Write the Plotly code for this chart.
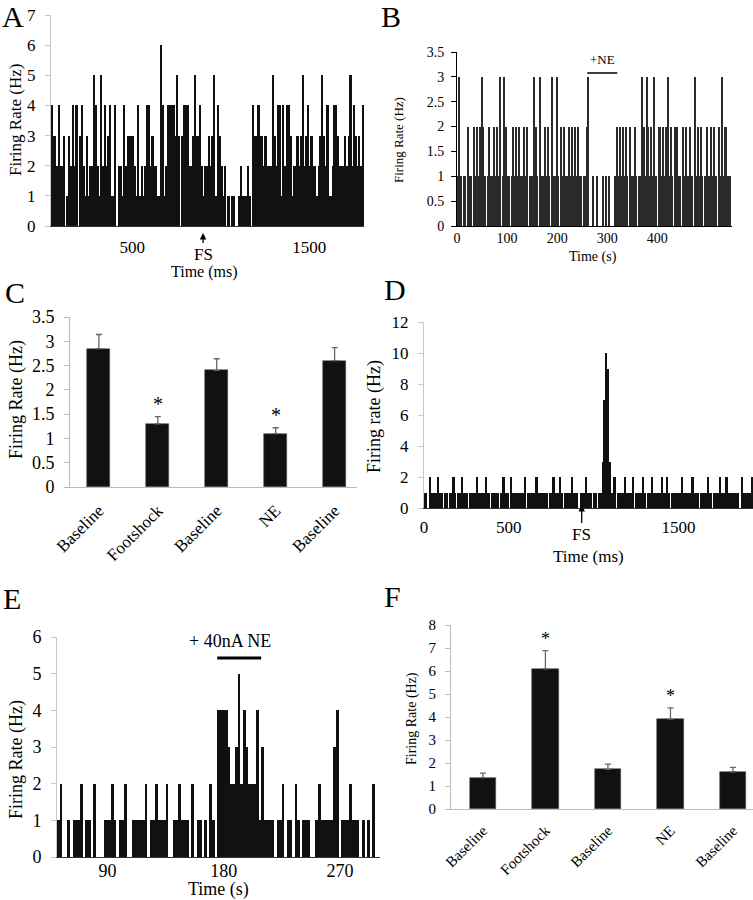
import numpy as np
import plotly.graph_objects as go

FONT = "Liberation Serif"
W, H = 753, 900

# ---------------- data ----------------
# Panel A: firing rate per 10-ms bin (starting at 40 ms)
a_start, a_bin = 40, 10
a_counts = [4, 3, 3, 2, 4, 2, 2, 3, 0, 1, 3, 2, 4, 2, 4, 0, 3, 4, 2, 1,
            3, 1, 2, 2, 5, 4, 2, 1, 5, 2, 4, 2, 3, 4, 1, 1, 4, 0, 2, 2,
            1, 4, 2, 3, 3, 3, 3, 2, 1, 4, 1, 2, 1, 2, 4, 4, 2, 3, 2, 2,
            1, 1, 6, 4, 1, 2, 4, 4, 4, 4, 3, 5, 3, 0, 3, 4, 4, 4, 2, 2,
            3, 5, 3, 3, 4, 2, 1, 2, 2, 3, 2, 3, 5, 1, 4, 3, 2, 1, 2, 0,
            1, 0, 1, 1, 0, 0, 1, 2, 1, 1, 1, 2, 1, 0, 4, 3, 3, 4, 3, 3,
            2, 3, 2, 2, 2, 5, 3, 2, 4, 4, 1, 4, 2, 4, 4, 3, 1, 2, 2, 3,
            2, 3, 5, 2, 3, 4, 2, 3, 2, 2, 1, 2, 3, 5, 3, 2, 4, 1, 1, 2,
            4, 4, 3, 2, 2, 2, 3, 2, 3, 5, 2, 4, 3, 2, 3, 2, 4]
a_ticks = [500, 1500]
fs_a = 900

# Panel B: firing rate per 3-s bin
b_start, b_bin = 0, 3
b_counts = [1, 3, 1, 0, 1, 1, 0, 2, 1, 1, 0, 2, 1, 2, 1, 2, 3, 2, 1, 0,
            1, 2, 1, 1, 2, 1, 2, 1, 3, 0, 1, 3, 2, 1, 1, 0, 1, 2, 1, 2,
            1, 2, 1, 1, 2, 1, 2, 0, 1, 1, 1, 3, 2, 1, 0, 3, 1, 1, 2, 1,
            2, 1, 0, 3, 1, 1, 3, 1, 0, 2, 1, 2, 1, 1, 2, 1, 2, 1, 2, 1,
            2, 1, 1, 0, 1, 1, 2, 3, 0, 0, 1, 0, 0, 1, 0, 0, 0, 1, 0, 1,
            0, 1, 0, 0, 0, 1, 2, 1, 2, 1, 2, 1, 2, 1, 0, 2, 1, 1, 2, 1,
            0, 1, 1, 3, 2, 1, 3, 2, 1, 2, 1, 3, 1, 0, 2, 2, 1, 2, 1, 2,
            3, 1, 2, 1, 0, 2, 2, 1, 1, 0, 2, 1, 2, 1, 1, 2, 1, 0, 3, 1,
            2, 1, 2, 1, 0, 1, 2, 1, 1, 2, 1, 2, 1, 0, 2, 1, 3, 1, 2, 2,
            1, 1, 0]
b_ticks = [0, 100, 200, 300, 400]
ne_b = [260, 320]

# Panel C
c_labels = ["Baseline", "Footshock", "Baseline", "NE", "Baseline"]
c_means = [2.85, 1.30, 2.40, 1.10, 2.60]
c_errs = [0.29, 0.15, 0.24, 0.12, 0.27]
c_sig = [False, True, False, True, False]

# Panel D: firing rate per 10-ms bin
d_start, d_bin = 0, 10
d_counts = [1, 1, 0, 2, 1, 1, 1, 1, 2, 1, 1, 0, 1, 1, 0, 1, 1, 2, 1, 0,
            1, 1, 2, 1, 1, 1, 0, 1, 1, 1, 1, 2, 1, 1, 1, 1, 2, 1, 1, 0,
            1, 1, 1, 1, 0, 1, 2, 2, 1, 1, 0, 2, 1, 1, 1, 1, 1, 1, 1, 2,
            0, 1, 1, 1, 1, 1, 2, 1, 1, 1, 1, 1, 1, 0, 1, 1, 2, 1, 1, 1,
            2, 1, 0, 1, 1, 1, 1, 2, 1, 1, 1, 0, 1, 1, 1, 2, 1, 1, 1, 0,
            1, 1, 0, 1, 1, 3, 7, 10, 9, 3, 1, 1, 2, 0, 1, 1, 1, 1, 2, 1,
            1, 1, 1, 2, 0, 1, 1, 1, 1, 2, 1, 0, 1, 1, 2, 1, 1, 1, 1, 1,
            2, 1, 1, 2, 1, 0, 1, 1, 1, 1, 1, 1, 2, 1, 1, 1, 1, 1, 2, 1,
            1, 1, 0, 1, 1, 1, 1, 2, 1, 1, 0, 1, 1, 1, 2, 1, 1, 1, 2, 1,
            1, 1, 1, 1, 1, 1, 0, 2, 1, 1, 1, 1, 1, 2]
d_ticks = [0, 500, 1500]
fs_d = 930

# Panel E: firing rate per 2-s bin (starting at 51 s)
e_start, e_bin = 51, 2
e_counts = [1, 2, 0, 0, 1, 0, 1, 1, 1, 2, 0, 1, 1, 0, 2, 0, 0, 0, 1, 1,
            1, 2, 1, 0, 1, 1, 2, 0, 0, 1, 1, 1, 1, 1, 2, 0, 1, 1, 2, 1,
            1, 1, 2, 0, 0, 1, 1, 2, 1, 1, 1, 0, 2, 0, 1, 1, 0, 1, 0, 2,
            1, 0, 4, 4, 4, 4, 3, 2, 2, 3, 5, 2, 4, 3, 2, 2, 2, 4, 1, 3,
            1, 1, 1, 1, 0, 1, 1, 2, 0, 1, 1, 0, 2, 1, 0, 1, 1, 1, 0, 0,
            1, 2, 1, 1, 1, 1, 1, 3, 4, 0, 1, 1, 1, 2, 1, 1, 1, 0, 1, 0,
            1, 0, 2, 0, 0]
e_ticks = [90, 180, 270]
ne_e = [175, 209]

# Panel F
f_labels = ["Baseline", "Footshock", "Baseline", "NE", "Baseline"]
f_means = [1.36, 6.09, 1.72, 3.91, 1.62]
f_errs = [0.20, 0.80, 0.23, 0.49, 0.19]
f_sig = [False, True, False, True, False]

# ---------------- helpers ----------------
def px(x):
    return x / W


def py(y):
    return 1 - y / H


BLACK = "#111111"
LIGHT = "#c8c8c8"

fig = go.Figure()


def hist_trace(start, width, counts, ax, color=BLACK):
    centers = start + width * (np.arange(len(counts)) + 0.5)
    return go.Bar(x=centers, y=counts, width=width, marker=dict(color=color, line=dict(width=0)),
                  xaxis=ax[0], yaxis=ax[1], hoverinfo="skip")


fig.add_trace(hist_trace(a_start, a_bin, a_counts, ("x", "y")))
fig.add_trace(hist_trace(b_start, b_bin, b_counts, ("x2", "y2"), color="#2a2a2a"))
fig.add_trace(hist_trace(d_start, d_bin, d_counts, ("x4", "y4")))
fig.add_trace(hist_trace(e_start, e_bin, e_counts, ("x5", "y5")))

idx = list(range(len(c_means)))
fig.add_trace(go.Bar(x=idx, y=c_means, width=0.39, xaxis="x3", yaxis="y3",
                     marker=dict(color=BLACK, line=dict(width=0.6, color="#555")),
                     error_y=dict(type="data", array=c_errs, arrayminus=[0] * len(c_errs), symmetric=False,
                                  color="#666", thickness=1.3, width=3)))
fig.add_trace(go.Bar(x=idx, y=f_means, width=0.42, xaxis="x6", yaxis="y6",
                     marker=dict(color=BLACK, line=dict(width=0.6, color="#555")),
                     error_y=dict(type="data", array=f_errs, arrayminus=[0] * len(f_errs), symmetric=False,
                                  color="#666", thickness=1.3, width=3)))

tf = lambda s: dict(family=FONT, size=s, color="black")


def yax(dom_top, dom_bot, xa, rng, dtick, size, lc=LIGHT, tc=LIGHT, standoff=6):
    return dict(domain=[py(dom_bot), py(dom_top)], anchor=xa, range=rng, dtick=dtick,
                showgrid=False, zeroline=False, showline=True, linecolor=lc, linewidth=1,
                ticks="outside", ticklen=5, tickcolor=tc, tickfont=tf(size), ticklabelstandoff=standoff,
                automargin=False)


def xax(left, right, ya, rng, tickvals, size, lc="#333", ticktext=None, standoff=4):
    d = dict(domain=[px(left), px(right)], anchor=ya, range=rng, tickvals=tickvals,
             showgrid=False, zeroline=False, showline=True, linecolor=lc, linewidth=1,
             ticks="", tickfont=tf(size), ticklabelstandoff=standoff, automargin=False)
    if ticktext is not None:
        d["ticktext"] = ticktext
    return d


layout = dict(width=W, height=H, margin=dict(l=0, r=0, t=0, b=0, pad=0, autoexpand=False),
              showlegend=False, plot_bgcolor="white", paper_bgcolor="white", bargap=0,
              font=dict(family=FONT, color="black"))

# A
layout["xaxis"] = xax(51, 364, "y", [a_start, a_start + a_bin * len(a_counts)], a_ticks, 17, standoff=6)
layout["yaxis"] = yax(15, 226, "x", [0, 7], 1, 17)
# B
layout["xaxis2"] = xax(457, 732, "y2", [b_start, b_start + b_bin * len(b_counts)], b_ticks, 14, lc="black",
                       standoff=-1)
layout["yaxis2"] = yax(52, 226, "x2", [0, 3.5], 0.5, 14, lc="black", tc="black", standoff=4)
# C
layout["xaxis3"] = xax(70, 357, "y3", [-0.49, 4.38], idx, 17, lc="#bbbbbb", ticktext=c_labels, standoff=6)
layout["xaxis3"]["tickangle"] = -45
layout["yaxis3"] = yax(317, 487, "x3", [0, 3.5], 0.5, 18, lc="#bbbbbb", tc="#bbbbbb")
layout["xaxis7"] = dict(overlaying="x3", anchor="y3", range=[-0.49, 4.38],
                        tickvals=[i + 0.5 for i in idx[:-1]], ticks="outside", ticklen=6,
                        tickcolor="#bbbbbb", showticklabels=False, showgrid=False, zeroline=False,
                        showline=False, automargin=False)
# D
layout["xaxis4"] = xax(424, 753, "y4", [d_start, 1940], d_ticks, 17, standoff=4)
layout["yaxis4"] = yax(322, 508, "x4", [0, 12], 2, 17)
# E
layout["xaxis5"] = xax(57, 380, "y5", [e_start, e_start + e_bin * len(e_counts)], e_ticks, 18, standoff=-3)
layout["yaxis5"] = yax(637, 857, "x5", [0, 6], 1, 18)
# F
layout["xaxis6"] = xax(451, 753, "y6", [-0.51, 4.32], idx, 15, lc="#bbbbbb", ticktext=f_labels, standoff=6)
layout["xaxis6"]["tickangle"] = -45
layout["yaxis6"] = yax(625, 809, "x6", [0, 8], 1, 15, lc="#bbbbbb", tc="#bbbbbb")
layout["xaxis8"] = dict(overlaying="x6", anchor="y6", range=[-0.51, 4.32],
                        tickvals=[i + 0.5 for i in idx[:-1]], ticks="outside", ticklen=6,
                        tickcolor="#bbbbbb", showticklabels=False, showgrid=False, zeroline=False,
                        showline=False, automargin=False)

fig.update_layout(**layout)

ann = []


def text(t, x, y, size, angle=0, xref="paper", yref="paper", xanchor="center", yanchor="middle"):
    ann.append(dict(text=t, x=x, y=y, xref=xref, yref=yref, showarrow=False, textangle=angle,
                    font=tf(size), xanchor=xanchor, yanchor=yanchor))


# panel letters
for lab, x, y in [("A", 13, 16), ("B", 391, 17), ("C", 15, 292), ("D", 395, 290), ("E", 12, 598), ("F", 392, 596)]:
    text(lab, px(x), py(y), 30)

# axis titles
text("Firing Rate (Hz)", px(16), py(120), 17, -90)
text("Time (ms)", px(205), py(272), 16)
text("Firing Rate (Hz)", px(398), py(140), 13, -90)
text("Time (s)", px(593), py(257), 14)
text("Firing Rate (Hz)", px(16), py(400), 18, -90)
text("Firing rate (Hz)", px(374), py(417), 18, -90)
text("Time (ms)", px(588), py(556), 17)
text("Firing Rate (Hz)", px(16), py(760), 18, -90)
text("Time (s)", px(218), py(889), 18)
text("Firing Rate (Hz)", px(412), py(718), 14, -90)

# FS arrows
ann.append(dict(text="FS", x=fs_a, y=py(233), xref="x", yref="paper", showarrow=True, ax=0, ay=21,
                arrowhead=2, arrowsize=1, arrowwidth=1.3, arrowcolor="black", font=tf(17)))
ann.append(dict(text="FS", x=fs_d, y=py(505), xref="x4", yref="paper", showarrow=True, ax=0, ay=29,
                arrowhead=2, arrowsize=1, arrowwidth=1.3, arrowcolor="black", font=tf(17)))

# NE labels
text("+NE", (ne_b[0] + ne_b[1]) / 2, py(60), 13, xref="x2")
text("+ 40nA NE", px(230), py(641), 18)

# asterisks
for i, s in enumerate(c_sig):
    if s:
        ann.append(dict(text="*", x=i, y=c_means[i] + c_errs[i], xref="x3", yref="y3", showarrow=False,
                        font=tf(20), yanchor="bottom", yshift=0))
for i, s in enumerate(f_sig):
    if s:
        ann.append(dict(text="*", x=i, y=f_means[i] + f_errs[i], xref="x6", yref="y6", showarrow=False,
                        font=tf(18), yanchor="bottom", yshift=0))

fig.update_layout(annotations=ann)

shapes = [
    dict(type="line", xref="x2", yref="paper", x0=ne_b[0], x1=ne_b[1], y0=py(73), y1=py(73),
         line=dict(color="black", width=1.5)),
    dict(type="line", xref="x5", yref="paper", x0=ne_e[0], x1=ne_e[1], y0=py(658), y1=py(658),
         line=dict(color="black", width=3)),
]
fig.update_layout(shapes=shapes)

fig.write_html("out.html", config={"displayModeBar": False},
               post_script="document.body.style.margin='0';document.body.style.overflow='hidden';")
